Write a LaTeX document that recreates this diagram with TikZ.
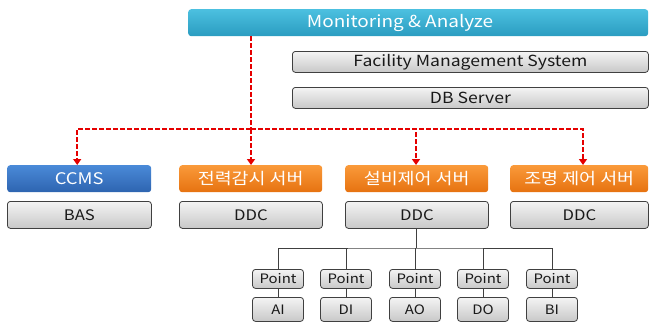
\documentclass[tikz,border=0pt]{standalone}
\usepackage{fontspec}
\setmainfont[FakeStretch=1.15]{Noto Sans CJK KR}
\usetikzlibrary{arrows.meta,shadings}
\definecolor{teal1}{HTML}{4CC0E0}
\definecolor{teal2}{HTML}{2A9CC0}
\definecolor{blue1}{HTML}{4A8AD8}
\definecolor{blue2}{HTML}{2E64B0}
\definecolor{or1}{HTML}{FA9A3A}
\definecolor{or2}{HTML}{E67210}
\definecolor{gr1}{HTML}{F4F4F4}
\definecolor{gr2}{HTML}{C8C8C8}
\tikzset{
  x=1pt,y=-1pt,
  graybox/.style={draw=black!75,line width=0.8pt,rounded corners=3pt,top color=gr1,bottom color=gr2,inner sep=0pt,font=\fontsize{14.5}{14.5}\selectfont,text=black!90},
  colbox/.style={rounded corners=3pt,inner sep=0pt,text=white,font=\fontsize{16}{16}\selectfont},
  dlink/.style={draw=red!90!black,line width=1.8pt,dash pattern=on 5pt off 2pt},
  darr/.style={dlink,-{Triangle[length=6pt,width=8pt]}},
  tline/.style={draw=black!75,line width=0.9pt},
}
\begin{document}
\begin{tikzpicture}
\useasboundingbox (0,0) rectangle (650,322);
% top
\node[colbox,top color=teal1,bottom color=teal2,minimum width=460pt,minimum height=27pt,anchor=north west] (mon) at (188,9) {};
\node[text=white,font=\fontsize{16.5}{16.5}\selectfont] (montext) at (400,22.5) {Monitoring \& Analyze};
\node[graybox,font=\fontsize{15.3}{15.3}\selectfont,minimum width=356pt,minimum height=21pt,anchor=north west] (fms) at (292,51) {Facility Management System};
\node[graybox,font=\fontsize{15.3}{15.3}\selectfont,minimum width=356pt,minimum height=21pt,anchor=north west] (db) at (292,87) {DB Server};
% row 1
\node[colbox,top color=blue1,bottom color=blue2,minimum width=144pt,minimum height=27pt,anchor=north west] (ccms) at (7,165) {CCMS};
\node[colbox,top color=or1,bottom color=or2,minimum width=143pt,minimum height=27pt,anchor=north west] (s1) at (179,165) {전력감시 서버};
\node[colbox,top color=or1,bottom color=or2,minimum width=143pt,minimum height=27pt,anchor=north west] (s2) at (345,165) {설비제어 서버};
\node[colbox,top color=or1,bottom color=or2,minimum width=138pt,minimum height=27pt,anchor=north west] (s3) at (510,165) {조명 제어 서버};
% row 2
\node[graybox,minimum width=144pt,minimum height=27pt,anchor=north west] (bas) at (7,201) {BAS};
\node[graybox,minimum width=143pt,minimum height=27pt,anchor=north west] (d1) at (179,201) {DDC};
\node[graybox,minimum width=143pt,minimum height=27pt,anchor=north west] (d2) at (345,201) {DDC};
\node[graybox,minimum width=138pt,minimum height=27pt,anchor=north west] (d3) at (510,201) {DDC};
% dashed links
\coordinate (j) at (251,129);
\draw[dlink] (251,36) -- (j);
\draw[darr] (j) -| ([xshift=-2pt]ccms.north);
\draw[darr] (j) -- (251,165);
\draw[darr] (j) -| (s2.north -| 416,0);
\draw[darr] (j) -| (583,165);
% tree
\coordinate (h) at (416,248);
\draw[tline] (d2.south -| 416,0) -- (h);
\foreach \i/\x/\lab in {1/278/AI,2/346/DI,3/415/AO,4/483/DO,5/552/BI}{
  \node[graybox,font=\fontsize{13}{13}\selectfont,minimum width=51pt,minimum height=19pt,anchor=north] (p\i) at (\x,269) {Point};
  \node[graybox,font=\fontsize{13}{13}\selectfont,minimum width=51pt,minimum height=24pt,anchor=north] (q\i) at (\x,297) {\lab};
  \draw[tline] (p\i.south) -- (q\i.north);
}
\draw[tline] (p1.north) |- (h) -| (p5.north);
\foreach \i in {2,3,4}{\draw[tline] (p\i.north) -- (p\i.north |- h);}
\end{tikzpicture}
\end{document}
